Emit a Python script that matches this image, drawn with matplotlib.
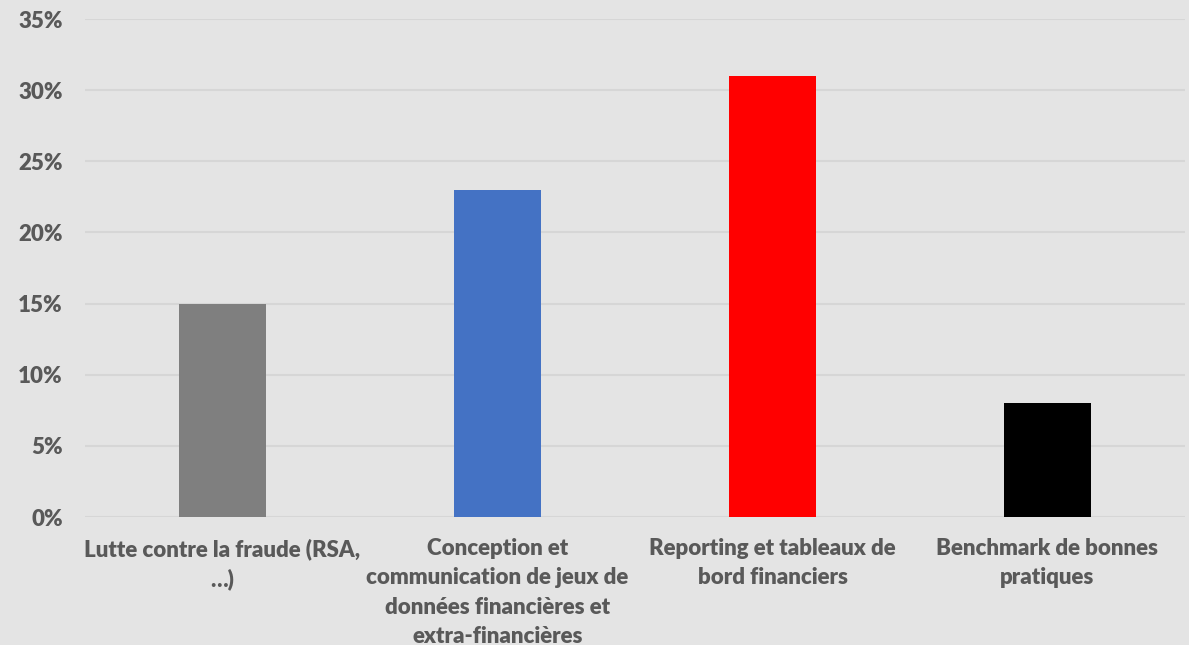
import matplotlib
matplotlib.use("Agg")
import matplotlib.pyplot as plt
from matplotlib.ticker import PercentFormatter, MultipleLocator

categories = [
    "Lutte contre la fraude (RSA,\n…)",
    "Conception et\ncommunication de jeux de\ndonnées financières et\nextra-financières",
    "Reporting et tableaux de\nbord financiers",
    "Benchmark de bonnes\npratiques",
]
values = [15, 23, 31, 8]
colors = ["#7f7f7f", "#4472c4", "#ff0000", "#000000"]

bg = "#e4e4e4"
text_color = "#595959"
grid_color = "#d6d6d6"

fig = plt.figure(figsize=(11.89, 6.45), dpi=100, facecolor=bg)
ax = fig.add_axes([85 / 1189, 128 / 645, 1100 / 1189, 498 / 645], facecolor=bg)

x = range(len(categories))
ax.bar(x, values, width=0.316, color=colors, zorder=3)

ax.set_xlim(-0.5, len(categories) - 0.5)
ax.set_ylim(0, 35)
ax.yaxis.set_major_locator(MultipleLocator(5))
ax.yaxis.set_major_formatter(PercentFormatter(decimals=0))
ax.grid(axis="y", color=grid_color, linewidth=1.5, zorder=0)
ax.set_axisbelow(True)

for s in ax.spines.values():
    s.set_visible(False)

ax.set_xticks(list(x))
ax.set_xticklabels(categories, linespacing=1.5)
ax.tick_params(axis="both", length=0, colors=text_color)
ax.tick_params(axis="y", pad=16)
ax.tick_params(axis="x", pad=15)
for lbl in ax.get_xticklabels() + ax.get_yticklabels():
    lbl.set_fontfamily("Lato")
    lbl.set_fontweight("heavy")
    lbl.set_fontsize(16)
    lbl.set_color(text_color)

fig.savefig("out.png", dpi=100, facecolor=bg)
